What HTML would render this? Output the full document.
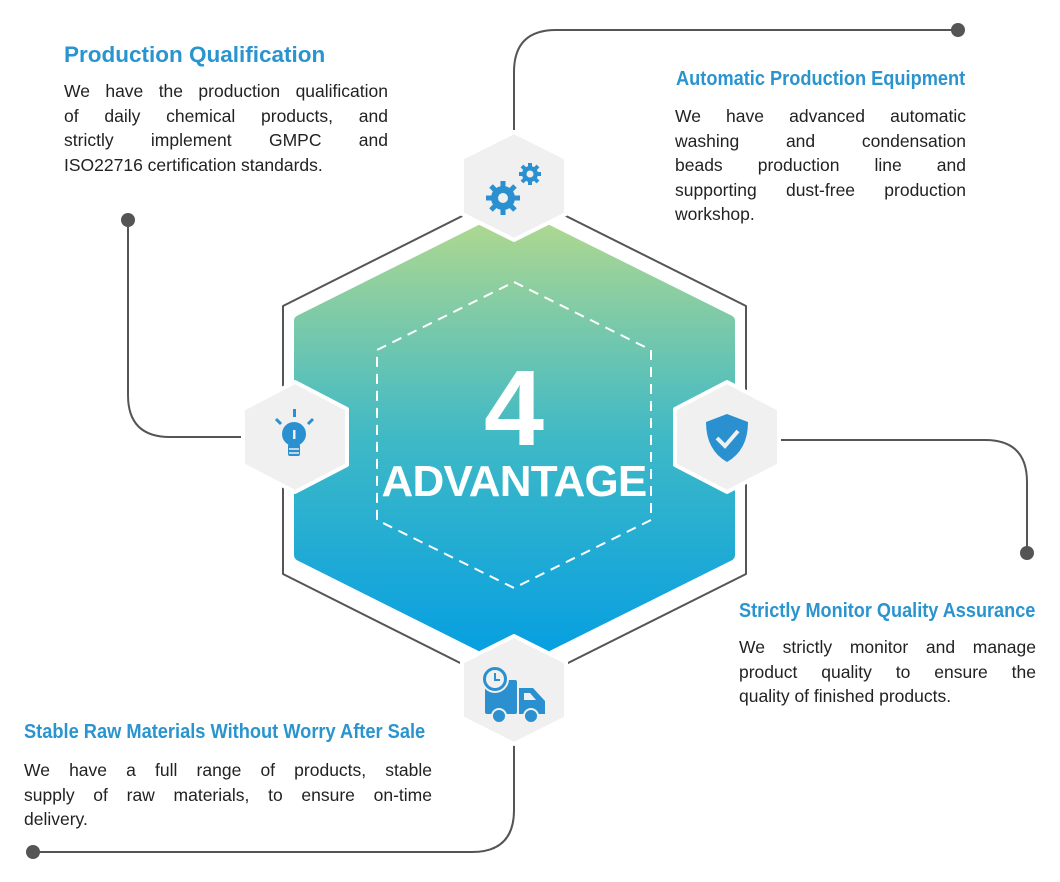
<!DOCTYPE html>
<html><head><meta charset="utf-8"><style>
body{margin:0;width:1060px;height:882px;background:#fff;position:relative;overflow:hidden;font-family:"Liberation Sans",Arial,sans-serif}
.t{position:absolute;color:#2a94cf;font-weight:bold;font-size:20px;white-space:nowrap;transform-origin:left top}
.b{position:absolute;color:#222;font-size:17.5px;line-height:24.5px}
.b div{text-align:justify;text-align-last:justify;white-space:nowrap}
.b div.l{text-align-last:left}
svg{position:absolute;left:0;top:0}
</style></head><body>
<svg width="1060" height="882" viewBox="0 0 1060 882">
<defs>
<linearGradient id="g" x1="0" y1="0" x2="0" y2="1">
<stop offset="0" stop-color="#b3d98e"/><stop offset="0.5" stop-color="#3fb9c6"/><stop offset="1" stop-color="#049ee2"/>
</linearGradient>
</defs>
<g fill="none" stroke="#555" stroke-width="2">
<path d="M514,130 V72 Q514,30 556,30 H958"/>
<path d="M128,220 V395 Q128,437 170,437 H245"/>
<path d="M779,440 H985 Q1027,440 1027,482 V553"/>
<path d="M514,742 V810 Q514,852 472,852 H33"/>
</g>
<g fill="#555"><circle cx="958" cy="30" r="7"/><circle cx="128" cy="220" r="7"/><circle cx="1027" cy="553" r="7"/><circle cx="33" cy="852" r="7"/></g>
<path d="M514,190 L746,306 L746,574 L514,690 L283,574 L283,306 Z" fill="none" stroke="#555" stroke-width="2" stroke-linejoin="round"/>
<path d="M514,214 L729,321 L729,555 L514,662 L300,555 L300,321 Z" fill="url(#g)" stroke="url(#g)" stroke-width="12" stroke-linejoin="round"/>
<path d="M514,282 L651,350 L651,520 L514,588 L377,520 L377,350 Z" fill="none" stroke="#fff" stroke-width="2" stroke-dasharray="10,7"/>
<g fill="#f0f0f0" stroke="#fff" stroke-width="4" stroke-linejoin="round">
<path d="M514,132 L566,158 L566,214 L514,240 L462,214 L462,158 Z"/>
<path d="M295,382 L347,409 L347,465 L295,492 L243,465 L243,409 Z"/>
<path d="M727,382 L779,409 L779,465 L727,492 L675,465 L675,409 Z"/>
<path d="M514,636 L566,662 L566,718 L514,744 L462,718 L462,662 Z"/>
</g>
<text x="514" y="445" text-anchor="middle" fill="#fff" font-family="Liberation Sans" font-weight="bold" font-size="108">4</text>
<text x="514" y="496" text-anchor="middle" fill="#fff" font-family="Liberation Sans" font-weight="bold" font-size="44" letter-spacing="-0.8">ADVANTAGE</text>
<g fill="#2a90d0">
<circle cx="503" cy="198" r="12"/><circle cx="530" cy="174" r="8"/>
<g stroke="#2a90d0" stroke-width="5">
<path d="M503,181V215M486,198H520M491,186L515,210M515,186L491,210"/>
<path d="M530,163V185M519,174H541M522,166L538,182M538,166L522,182" stroke-width="4"/>
</g>
<circle cx="503" cy="198" r="5" fill="#f0f0f0"/><circle cx="530" cy="174" r="3.5" fill="#f0f0f0"/>
<circle cx="294" cy="434" r="12"/><rect x="288" y="444" width="12" height="12" rx="2"/>
<rect x="293" y="409" width="3" height="8"/>
<path d="M276,419l5,5M313,419l-5,5" stroke="#2a90d0" stroke-width="3"/>
<path d="M289,449H299M289,453H299" stroke="#f0f0f0" stroke-width="1.5"/>
<rect x="293" y="430" width="2.5" height="9" fill="#f0f0f0"/>
<path d="M727,414 L748,422 Q748,450 727,462 Q706,450 706,422 Z"/>
<path d="M717,438 L725,446 L738,431" fill="none" stroke="#f0f0f0" stroke-width="4"/>
<rect x="485" y="680" width="32" height="34" rx="2"/>
<path d="M519,688 H533 L545,701 V714 H519 Z"/>
<circle cx="495" cy="679" r="13" stroke="#f0f0f0" stroke-width="2"/>
<circle cx="495" cy="679" r="9" fill="#f0f0f0"/>
<path d="M495,673V680H500" stroke="#2a90d0" stroke-width="2" fill="none"/>
<circle cx="499" cy="716" r="7" stroke="#f0f0f0" stroke-width="2"/><circle cx="531" cy="716" r="7" stroke="#f0f0f0" stroke-width="2"/>
<path d="M524,693h6l6,7h-12z" fill="#f0f0f0"/>
</g>
</svg>
<div class="t" style="left:64px;top:42px;font-size:22.5px">Production Qualification</div>
<div class="b" style="left:64px;top:79px;width:324px"><div>We have the production qualification</div><div>of daily chemical products, and</div><div>strictly implement GMPC and</div><div class="l">ISO22716 certification standards.</div></div>
<div class="t" style="left:676px;top:68px;transform:scaleX(0.91)">Automatic Production Equipment</div>
<div class="b" style="left:675px;top:104px;width:291px"><div>We have advanced automatic</div><div>washing and condensation</div><div>beads production line and</div><div>supporting dust-free production</div><div class="l">workshop.</div></div>
<div class="t" style="left:739px;top:600px;transform:scaleX(0.906)">Strictly Monitor Quality Assurance</div>
<div class="b" style="left:739px;top:635px;width:297px"><div>We strictly monitor and manage</div><div>product quality to ensure the</div><div class="l">quality of finished products.</div></div>
<div class="t" style="left:24px;top:721px;transform:scaleX(0.912)">Stable Raw Materials Without Worry After Sale</div>
<div class="b" style="left:24px;top:758px;width:408px"><div>We have a full range of products, stable</div><div>supply of raw materials, to ensure on-time</div><div class="l">delivery.</div></div>
</body></html>
